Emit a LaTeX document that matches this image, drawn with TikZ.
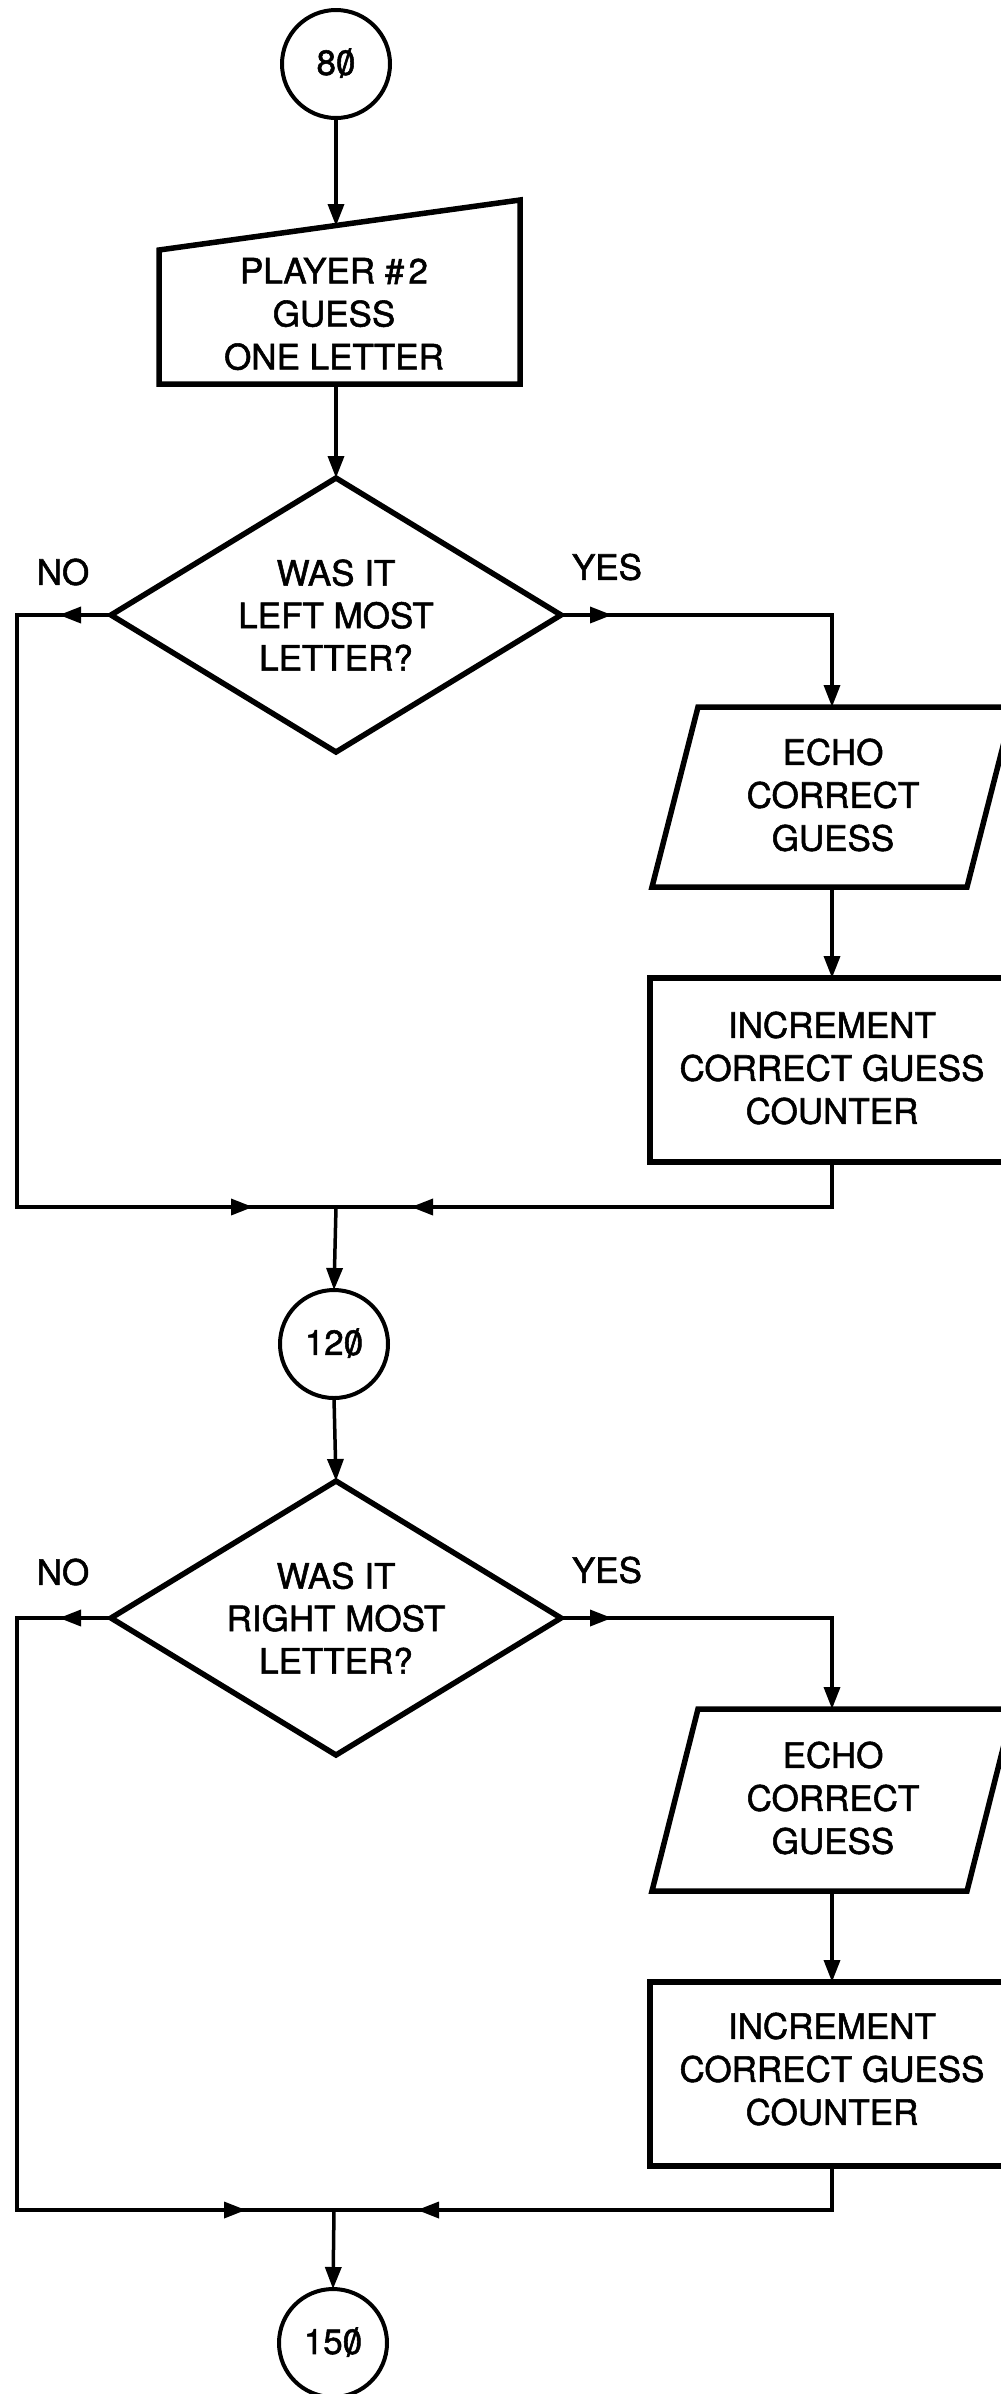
\documentclass[tikz,border=0pt]{standalone}
\usepackage{graphicx}
\usepackage{fontspec}
\setmainfont[FakeBold=1.5]{TeX Gyre Heros}
\usetikzlibrary{arrows.meta,decorations.markings,shapes.geometric}
\newcommand{\sz}{\ooalign{0\cr\hidewidth\raisebox{-0.06em}{\scalebox{1.1}[1.12]{/}}\hidewidth\cr}}
\tikzset{
  conn/.style={line width=3.5pt},
  shp/.style={line width=5.5pt, line join=miter},
  lbl/.style={font=\fontsize{35}{43}\selectfont, align=center, inner sep=0pt},
  oval/.style={circle, draw, line width=4pt, minimum size=108pt, inner sep=0pt, outer sep=0pt, font=\fontsize{35}{43}\selectfont},
  decis/.style={diamond, draw, line width=5.5pt, minimum width=450pt, minimum height=274pt, aspect=1.64, inner sep=0pt, outer sep=0pt, font=\fontsize{35}{42.5}\selectfont, align=center},
  tipat/.style={postaction={decorate, decoration={markings, mark=at position #1 with {\arrow{>}}}}},
  >={Triangle[length=22pt,width=16pt]}
}
\begin{document}
\begin{tikzpicture}[x=1pt,y=-1pt]
\useasboundingbox (0,0) rectangle (1001,2394);
\clip (0,0) rectangle (1001,2394);

% ---------- section 1 ----------
\node[oval] (c80) at (336,64) {8\sz};
\draw[shp] (159,250) -- (520,200) -- (520,384) -- (159,384) -- cycle;
\node[lbl] (guess) at (334,314) {PLAYER \#\kern0.12em 2\\GUESS\\ONE LETTER};
\coordinate (guessT) at (336,226);
\coordinate (guessB) at (336,384);

\node[decis] (d1) at (336,615) {WAS IT\\LEFT MOST\\LETTER?};
\node[lbl] (no1) at (63,572) {NO};
\node[lbl] (yes1) at (607,567) {YES};

\draw[shp] (698,707) -- (1013,707) -- (967,887) -- (652,887) -- cycle;
\node[lbl] (echo1) at (833,795) {ECHO\\CORRECT\\GUESS};
\coordinate (echo1T) at (832,707);
\coordinate (echo1B) at (832,887);

\draw[shp] (650,978) rectangle (1014,1162);
\node[lbl] (inc1) at (832,1068) {INCREMENT\\CORRECT GUESS\\COUNTER};
\coordinate (inc1T) at (832,978);
\coordinate (inc1B) at (832,1162);

\coordinate (l1) at (17,615);
\coordinate (r1) at (832,615);
\coordinate (j1) at (336,1207);

\node[oval] (c120) at (334,1344) {12\sz};

\draw[conn,->] (c80.south) -- (guessT);
\draw[conn,->] (guessB) -- (d1.north);
\draw[conn, tipat=52pt, tipat=922pt] (d1.west) -- (l1) |- (j1);
\draw[conn,->, tipat=51pt] (d1.east) -- (r1) -- (echo1T);
\draw[conn,->] (echo1B) -- (inc1T);
\draw[conn, tipat=466pt] (inc1B) |- (j1);
\draw[conn,->] (j1) -- (c120.north);

% ---------- section 2 ----------
\node[decis] (d2) at (336,1618) {WAS IT\\RIGHT MOST\\LETTER?};
\node[lbl] (no2) at (63,1572) {NO};
\node[lbl] (yes2) at (607,1570) {YES};

\draw[shp] (698,1709) -- (1013,1709) -- (967,1891) -- (652,1891) -- cycle;
\node[lbl] (echo2) at (833,1798) {ECHO\\CORRECT\\GUESS};
\coordinate (echo2T) at (832,1709);
\coordinate (echo2B) at (832,1891);

\draw[shp] (650,1982) rectangle (1014,2166);
\node[lbl] (inc2) at (832,2069) {INCREMENT\\CORRECT GUESS\\COUNTER};
\coordinate (inc2T) at (832,1982);
\coordinate (inc2B) at (832,2166);

\coordinate (l2) at (17,1618);
\coordinate (r2) at (832,1618);
\coordinate (j2) at (334,2210);

\node[oval] (c150) at (333,2343) {15\sz};

\draw[conn,->] (c120.south) -- (d2.north);
\draw[conn, tipat=52pt, tipat=915pt] (d2.west) -- (l2) |- (j2);
\draw[conn,->, tipat=51pt] (d2.east) -- (r2) -- (echo2T);
\draw[conn,->] (echo2B) -- (inc2T);
\draw[conn, tipat=459pt] (inc2B) |- (j2);
\draw[conn,->] (j2) -- (c150.north);
\end{tikzpicture}
\end{document}
